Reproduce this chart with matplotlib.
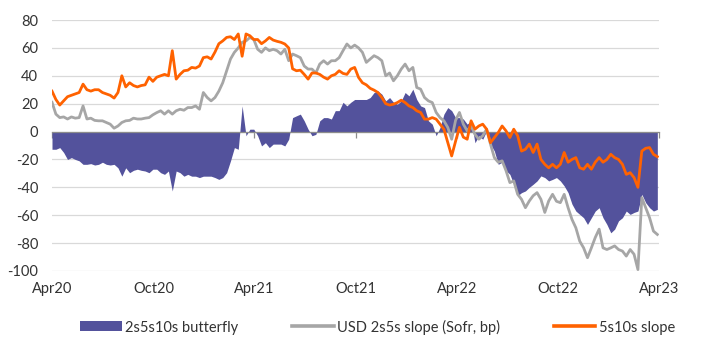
import matplotlib
matplotlib.use("Agg")
import matplotlib.pyplot as plt
from matplotlib.patches import Patch
from matplotlib.lines import Line2D
import pandas as pd

# ---------------- data (weekly readings, starting 1 Apr 2020) ----------------
start_date = "2020-04-01"

butterfly = [
    -12.7, -12.7, -11.5, -15, -20, -18.7, -20, -21, -23.5, -23.5, -23, -24, -23.5, -22, -23.5, -24,
    -23.5, -26, -32, -26, -29.5, -27.8, -27, -27.8, -28.3, -29.5, -27,
    -27, -29.5, -30.7, -28.3, -42.6, -28.3, -29.5, -32, -30.7, -32, -32, -33, -32, -32, -32, -33,
    -34.3, -33, -29.5, -21, -11.5, -12.7, 18.4, -3, 1.7, 1.7,
    -3, -10.3, -8, -11.5, -9, -9, -9, -10.3, -5.5, 10, 11.3, 12.5, 7.7, 1.7, -3, -2, 7.7, 10, 10, 9,
    15, 15, 21, 18.4, 21, 23,
    23, 23, 23, 24.4, 28, 29, 26.8, 22, 24.4, 21, 19.6, 22, 28, 25.6, 30.4, 23, 18.4, 17.2, 7.7, 5.3,
    -3, 2.9, 12.5, 17.2, 15, 10,
    10, 9, 5.3, 7.7, -8, -3, -5.5, 0.5, -9, -14, -23.5, -22, -28, -30.7, -37.8, -46, -43.8, -42.6,
    -40, -37.8, -35.4, -31.8, -33, -35.4, -34.3, -33,
    -35.4, -39, -43.8, -52, -57, -59.4, -61.8, -66.6, -61.8, -57, -54.6, -61.8, -66.6, -72.6, -70,
    -64, -61.8, -57, -59.4, -58, -57, -45, -51, -54.6, -57, -55.8,
]

slope_2s5s = [
    21, 12.5, 10, 10.5, 9, 10.5, 9.6, 10, 18.4, 9, 9.6, 8, 7.7, 7.7, 6.5, 5.3, 2.4, 4, 6.5, 7.7, 8,
    9.6, 9, 9, 9.6, 10, 12,
    13.6, 14.9, 12.5, 14.9, 12.5, 14.9, 16, 15.3, 17.2, 17.2, 18.4, 16, 28, 24.4, 22, 24.4, 29, 35,
    43.6, 52, 56.8, 60, 64, 65, 67.5, 66,
    59, 56.8, 60, 58, 59, 58, 55.6, 59, 50.8, 55.6, 54.4, 53, 47, 44.8, 44.8, 42, 48.4, 50.8, 48.4,
    50.8, 50.8, 53, 58, 62.8, 60, 62,
    60, 56.8, 49.6, 52, 54.4, 53, 50.8, 40, 42, 36.4, 40, 44.8, 48.4, 43.6, 46, 31.6, 30.4, 24.4, 22,
    20.8, 13.7, 10, 7.7, 2.9, -5.5, 8,
    13.7, 5.3, 0.5, 4, -2, -5.5, -3, 1.7, -9, -18.7, -22, -21, -28, -36.6, -35.4, -45, -48.6, -54.6,
    -49.8, -46, -43.8, -48.6, -58, -49.8, -45, -50,
    -51, -45, -54.6, -63, -69, -78.6, -83.4, -90.5, -83.4, -76, -70, -83.4, -84.6, -83.4, -82, -84.6,
    -85.7, -89.3, -84.6, -88, -99, -47.4, -54.6, -61.8, -71.4, -73.8,
]

slope_5s10s = [
    29, 23, 19, 22, 25, 26, 27, 28, 34, 30, 29, 30, 30, 28, 27, 26, 24, 28, 40, 32, 35, 33, 32, 33,
    33.5, 39, 36,
    39, 40, 41, 40, 58, 37.6, 41, 43.6, 44, 46, 45.5, 47, 53, 53.6, 52, 57, 63, 65, 67.5, 68, 66, 70,
    54, 70, 68.7, 66,
    66, 63, 65, 67.5, 65.6, 64.7, 64, 62.8, 60, 45, 43.6, 44, 41, 37.6, 42, 42, 41, 39, 37.6, 40, 41,
    43.6, 41.7, 41, 44.8, 46,
    38.8, 35, 33.5, 31, 29.7, 28, 24.4, 20, 19, 19.6, 20.8, 22.5, 20.8, 18.4, 17.2, 14.9, 13.7, 8.9,
    8.9, 10, 8.9, 5.3, 1.7, -8, -17.5, -7,
    3, -4, -5.5, 7.7, 1.7, 4, 5.3, 1.7, -8, -4.3, -0.7, 4, 0.5, -4.3, 1.7, -3, -14, -12.7, -9, -15,
    -9, -20, -23.5, -26, -23.5, -26,
    -23.5, -15, -22, -20, -18.7, -26, -27, -23.5, -27, -22, -18.7, -22, -20, -16.3, -18.7, -20,
    -23.5, -30.7, -29.5, -33, -40, -14, -12, -11.5, -16.3, -18,
]

tick_dates = ["2020-04-01", "2020-10-01", "2021-04-01", "2021-10-01",
              "2022-04-01", "2022-10-01", "2023-04-01"]
tick_labels = ["Apr20", "Oct20", "Apr21", "Oct21", "Apr22", "Oct22", "Apr23"]
y_ticks = list(range(-100, 81, 20))

series_names = ["2s5s10s butterfly", "USD 2s5s slope (Sofr, bp)", "5s10s slope"]
colors = ["#53529C", "#A6A6A6", "#FF6200"]

# ---------------- plotting ----------------
FONT = "Lato"
TEXT = "#333333"
plt.rcParams["font.family"] = [FONT, "DejaVu Sans"]

dates = pd.date_range(start_date, periods=len(butterfly), freq="7D")
tdates = pd.to_datetime(tick_dates)

W, H = 707, 346
fig = plt.figure(figsize=(W / 100, H / 100), dpi=100)
ax = fig.add_axes([52 / W, 1 - 271 / H, 607 / W, 251 / H])

ax.fill_between(dates, 0, butterfly, color=colors[0], lw=0, zorder=1)
ax.plot(dates, slope_2s5s, color=colors[1], lw=2.0, zorder=3, solid_joinstyle="round")
ax.plot(dates, slope_5s10s, color=colors[2], lw=2.0, zorder=4, solid_joinstyle="round")

ax.set_ylim(-100, 80)
ax.set_xlim(tdates[0], tdates[-1])
ax.set_yticks(y_ticks)
ax.set_yticklabels([str(v) for v in y_ticks])
ax.yaxis.grid(True, color="#D9D9D9", lw=0.9)
ax.set_axisbelow(True)

for s in ["top", "right", "left"]:
    ax.spines[s].set_visible(False)
ax.spines["bottom"].set_position(("data", 0))
ax.spines["bottom"].set_color("#8C8C8C")
ax.spines["bottom"].set_linewidth(0.9)
ax.spines["bottom"].set_zorder(2)
ax.set_xticks(tdates)
ax.tick_params(axis="x", direction="out", length=4, width=0.9, color="#8C8C8C",
               labelbottom=False)
ax.tick_params(axis="y", length=0, pad=10, labelsize=10.5, labelcolor=TEXT)

sec = ax.secondary_xaxis(0)
sec.set_xticks(tdates)
sec.set_xticklabels(tick_labels)
sec.tick_params(length=0, pad=8, labelsize=10.5, labelcolor=TEXT)
sec.spines["bottom"].set_visible(False)

handles = [
    Patch(facecolor=colors[0], edgecolor="none"),
    Line2D([], [], color=colors[1], lw=2.6),
    Line2D([], [], color=colors[2], lw=2.6),
]
fig.legend(handles, series_names, loc="center left", bbox_to_anchor=(73 / W, 1 - 327 / H),
           ncol=3, frameon=False, fontsize=10.5, labelcolor=TEXT, handlelength=2.85,
           borderpad=0, handleheight=0.68, handletextpad=0.22, columnspacing=3.7)

fig.savefig("out.png", dpi=100)
